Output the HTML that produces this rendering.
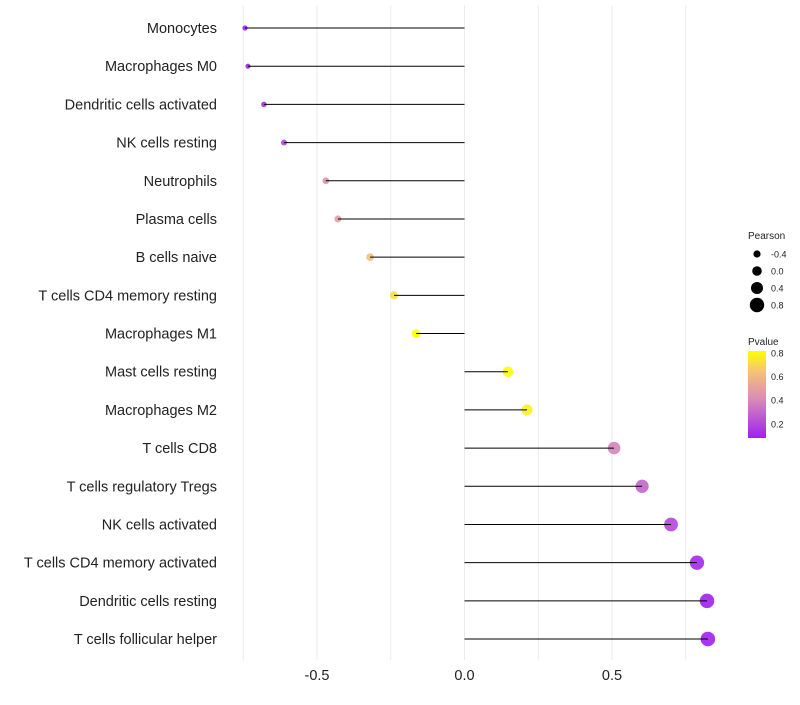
<!DOCTYPE html>
<html><head><meta charset="utf-8"><style>
body{margin:0;background:#fff;font-family:"Liberation Sans",sans-serif;}
svg text{font-family:"Liberation Sans",sans-serif;}
</style></head><body>
<svg id="chart" width="800" height="700">
<defs><linearGradient id="pg" x1="0" y1="1" x2="0" y2="0">
<stop offset="0" stop-color="#a020f0"/><stop offset="0.45" stop-color="#d98cb8"/><stop offset="0.75" stop-color="#f4c07a"/><stop offset="1" stop-color="#ffff00"/></linearGradient></defs>
<g id="grid"></g><g id="marks"></g><g id="labels"></g><g id="legend"></g>
</svg>
<script>
const categories=["Monocytes","Macrophages M0","Dendritic cells activated","NK cells resting","Neutrophils","Plasma cells","B cells naive","T cells CD4 memory resting","Macrophages M1","Mast cells resting","Macrophages M2","T cells CD8","T cells regulatory  Tregs ","NK cells activated","T cells CD4 memory activated","Dendritic cells resting","T cells follicular helper"];
const pearson=[-0.744,-0.734,-0.68,-0.612,-0.47,-0.429,-0.32,-0.239,-0.164,0.147,0.212,0.507,0.602,0.70,0.788,0.822,0.825];
const pvalues=[0.03,0.04,0.07,0.15,0.4,0.45,0.6,0.7,0.8,0.8,0.75,0.35,0.25,0.15,0.06,0.03,0.03];
const xTicks=[-0.5,0,0.5];
const xTickLabels=["-0.5","0.0","0.5"];
const gridVals=[-0.75,-0.5,-0.25,0,0.25,0.5,0.75];
const NS="http://www.w3.org/2000/svg";
const x=v=>464.5+v*295;
const y=i=>28+i*38.19;
const r=v=>4.8+3*v;
function lerp(a,b,t){return a.map((c,k)=>Math.round(c+(b[k]-c)*t));}
function col(p){const t=Math.max(0,Math.min(1,(p-0.03)/0.77));
 const s=[[0,[160,32,240]],[0.45,[217,140,184]],[0.75,[244,192,122]],[1,[255,255,0]]];
 for(let k=1;k<s.length;k++){if(t<=s[k][0]){const c=lerp(s[k-1][1],s[k][1],(t-s[k-1][0])/(s[k][0]-s[k-1][0]));return `rgb(${c})`;}}
 return "rgb(255,255,0)";}
function mk(tag,attrs,parent){const e=document.createElementNS(NS,tag);for(const k in attrs)e.setAttribute(k,attrs[k]);parent.appendChild(e);return e;}
const G=document.getElementById('grid'),M=document.getElementById('marks'),L=document.getElementById('labels'),LG=document.getElementById('legend');
gridVals.forEach(v=>{const l=mk('line',{x1:x(v),x2:x(v),y1:5,y2:660,stroke:'#ebebeb','stroke-width':1},G);

});
xTicks.forEach((v,i)=>{const t=mk('text',{x:x(v),y:680,'text-anchor':'middle','font-size':14.5,fill:'#222'},L);t.textContent=xTickLabels[i];

});
categories.forEach((c,i)=>{
 const t=mk('text',{x:217,y:y(i)+5,'text-anchor':'end','font-size':14.5,fill:'#222'},L);t.textContent=c;
 
 
 const d=mk('circle',{cx:x(pearson[i]),cy:y(i),r:r(pearson[i]),fill:col(pvalues[i]),'fill-opacity':0.9},M);
 
 
 const s=mk('line',{x1:x(0),x2:x(pearson[i]),y1:y(i),y2:y(i),stroke:'#000','stroke-width':1},M);
 
 
});
let t=mk('text',{x:748,y:239,'font-size':10,fill:'#222'},LG);t.textContent="Pearson";


[-0.4,0,0.4,0.8].forEach((v,k)=>{const cy=254+k*17;
 const c=mk('circle',{cx:757,cy:cy,r:r(v),fill:'#000'},LG);
 
 
 const tt=mk('text',{x:771,y:cy+3.5,'font-size':9,fill:'#222'},LG);tt.textContent=v===0?"0.0":String(v);
 
 });
t=mk('text',{x:748,y:345,'font-size':10,fill:'#222'},LG);t.textContent="Pvalue";


const bar=mk('rect',{x:748,y:351,width:18,height:87,fill:'url(#pg)'},LG);


[0.8,0.6,0.4,0.2].forEach((v,k)=>{const cy=353+k*23.6;
 const tt=mk('text',{x:771,y:cy+3.5,'font-size':9,fill:'#222'},LG);tt.textContent=v.toFixed(1);
 
 });
</script>
</body></html>
